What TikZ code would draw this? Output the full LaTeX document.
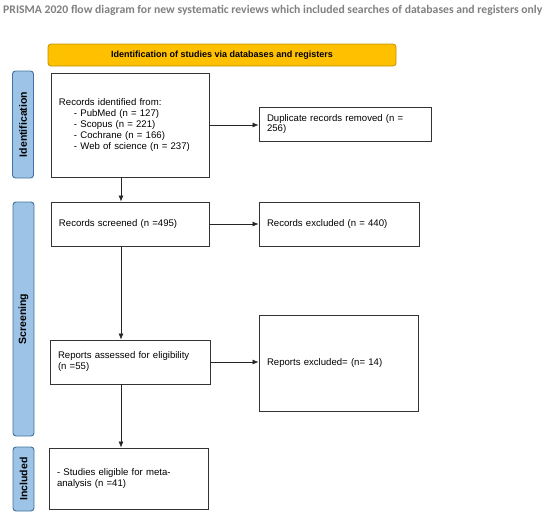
\documentclass[tikz,border=0pt]{standalone}
\usepackage{fontspec}
\setmainfont{Liberation Sans}
\newfontfamily\titlefont{Carlito}
\usetikzlibrary{arrows.meta}

\definecolor{titlegray}{RGB}{128,128,128}
\definecolor{bargold}{RGB}{255,192,0}
\definecolor{bargoldline}{RGB}{191,144,0}
\definecolor{sideblue}{RGB}{157,195,230}
\definecolor{sideline}{RGB}{65,113,156}

\tikzset{
  box/.style={draw=black!80, line width=0.8pt, fill=white, align=left, inner xsep=8pt,
    font=\fontsize{9.6}{11}\selectfont},
  phase/.style={draw=sideline, line width=0.9pt, fill=sideblue, rounded corners=3pt,
    minimum height=21pt, inner sep=0pt, rotate=90, font=\bfseries\fontsize{10.5}{12}\selectfont},
  flow/.style={-{Latex[length=6pt,width=5pt]}, line width=0.7pt, black!85}
}

\begin{document}
\begin{tikzpicture}[x=1pt, y=-1pt]

% Define the page
\useasboundingbox (0,0) rectangle (550,515);

% Title
\node[anchor=west, inner sep=0pt, text=titlegray,
  font=\titlefont\bfseries\fontsize{11.7}{13}\selectfont] (title) at (3,10)
  {PRISMA 2020 flow diagram for new systematic reviews which included searches of databases and registers only};

% Header bar
\node[draw=bargoldline, line width=0.8pt, fill=bargold, rounded corners=3pt,
  minimum width=348pt, minimum height=22pt,
  font=\bfseries\fontsize{9}{10}\selectfont] (header) at (222,55)
  {Identification of studies via databases and registers};

% Phase bars on the left
\node[phase, minimum width=107pt] (identification) at (23,124.5) {Identification};
\node[phase, minimum width=234pt] (screening) at (23.5,319) {Screening};
\node[phase, minimum width=64pt] (included) at (23.5,479) {Included};

% Boxes
\node[box, text width=142pt, minimum height=104pt] (records) at (130,125)
  {Records identified from:\\
   \hspace*{15pt}- PubMed (n = 127)\\
   \hspace*{15pt}- Scopus (n = 221)\\
   \hspace*{15pt}- Cochrane (n = 166)\\
   \hspace*{15pt}- Web of science (n = 237)};
\node[box, text width=156pt, minimum height=34pt, font=\fontsize{9.6}{10}\selectfont] (duplicates) at (345,124)
  {Duplicate records removed (n =\\ 256)};
\node[box, text width=142pt, minimum height=44pt] (screened) at (130,224)
  {Records screened (n =495)};
\node[box, text width=144pt, minimum height=44pt] (recexcluded) at (339,224)
  {Records excluded (n = 440)};
\node[box, text width=144pt, minimum height=44pt] (assessed) at (130,362)
  {Reports assessed for eligibility\\ (n =55)};
\node[box, text width=143pt, minimum height=96pt] (repexcluded) at (338.5,363)
  {Reports excluded= (n= 14)};
\node[box, text width=143pt, minimum height=61pt] (eligible) at (128.5,478.5)
  {- Studies eligible for meta-\\ analysis (n =41)};

% Arrows
\coordinate (spine) at (121,0);
\draw[flow] (records.east) -- (records.east -| duplicates.west);
\draw[flow] (records.south -| spine) -- (screened.north -| spine);
\draw[flow] (screened.east) -- (recexcluded.west);
\draw[flow] (screened.south -| spine) -- (assessed.north -| spine);
\draw[flow] (assessed.east) -- (assessed.east -| repexcluded.west);
\draw[flow] (assessed.south -| spine) -- (eligible.north -| spine);

\end{tikzpicture}
\end{document}
